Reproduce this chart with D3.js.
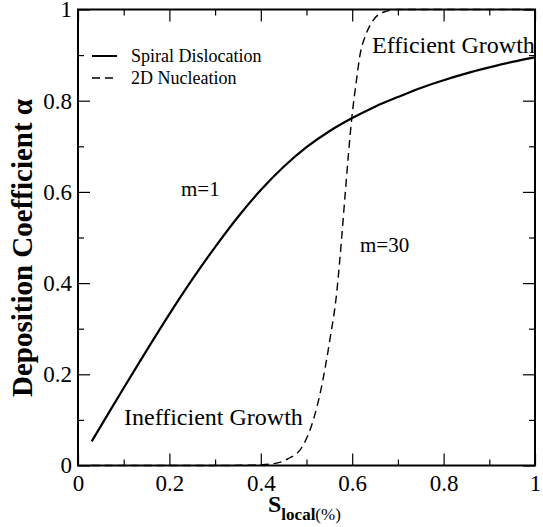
<!DOCTYPE html>
<html>
<head>
<meta charset="utf-8">
<script src="https://cdn.jsdelivr.net/npm/d3@7"></script>
<style>
  html, body { margin: 0; padding: 0; background: #fff; }
  svg { display: block; }
  text { font-family: "Liberation Serif", "Times New Roman", serif; fill: #000; }
</style>
</head>
<body>
<svg id="chart" width="543" height="527"></svg>
<script>
// Spiral dislocation growth (m = 1)
const spiralX = [0.03, 0.10, 0.15, 0.20, 0.25, 0.30, 0.35, 0.40, 0.45, 0.50, 0.55, 0.60, 0.65, 0.70, 0.75, 0.80, 0.85, 0.90, 0.95, 1.00];
const spiralY = [0.053, 0.170, 0.252, 0.332, 0.408, 0.479, 0.545, 0.604, 0.655, 0.698, 0.733, 0.762, 0.787, 0.808, 0.828, 0.845, 0.860, 0.873, 0.885, 0.895];

// 2D nucleation growth (m = 30)
const nucX = [0.03, 0.30, 0.38, 0.42, 0.46, 0.49, 0.515, 0.533, 0.551, 0.566, 0.577, 0.585, 0.599, 0.61, 0.617, 0.63, 0.645, 0.668, 0.70, 1.00];
const nucY = [0.0, 0.0, 0.0008, 0.003, 0.015, 0.04, 0.10, 0.173, 0.275, 0.378, 0.50, 0.60, 0.761, 0.85, 0.90, 0.945, 0.975, 0.994, 1.0, 1.0];

// Axis ticks
const xMajor = [0, 0.2, 0.4, 0.6, 0.8, 1];
const xMajorLabels = ["0", "0.2", "0.4", "0.6", "0.8", "1"];
const xMinor = [0.1, 0.3, 0.5, 0.7, 0.9];
const yMajor = [0, 0.2, 0.4, 0.6, 0.8, 1];
const yMajorLabels = ["0", "0.2", "0.4", "0.6", "0.8", "1"];
const yMinor = [0.1, 0.3, 0.5, 0.7, 0.9];

const legendLabels = ["Spiral Dislocation", "2D Nucleation"];

const svg = d3.select("#chart");
const L = 78, R = 535, T = 9.5, B = 465.5;

const x = d3.scaleLinear().domain([0, 1]).range([L, R]);
const y = d3.scaleLinear().domain([0, 1]).range([B, T]);

const plot = svg.append("g");

// Curves
const lineNuc = d3.line().x(d => x(d[0])).y(d => y(d[1])).curve(d3.curveMonotoneX);
const lineSpiral = d3.line().x(d => x(d[0])).y(d => y(d[1])).curve(d3.curveCatmullRom.alpha(0.5));

plot.append("path")
  .datum(nucX.map((v, i) => [v, nucY[i]]))
  .attr("d", lineNuc)
  .attr("fill", "none")
  .attr("stroke", "#000")
  .attr("stroke-width", 1.4)
  .attr("stroke-dasharray", "8,5");

plot.append("path")
  .datum(spiralX.map((v, i) => [v, spiralY[i]]))
  .attr("d", lineSpiral)
  .attr("fill", "none")
  .attr("stroke", "#000")
  .attr("stroke-width", 2.2);

// Axes with inward ticks on all four sides
const major = 12, minor = 6;
const axisG = svg.append("g");
function addAxis(gen, tx, ty) {
  const g = axisG.append("g").attr("transform", `translate(${tx},${ty})`).call(gen);
  g.select(".domain").remove();
  g.selectAll(".tick line").attr("stroke", "#000").attr("stroke-width", 1.2);
  return g;
}
// bottom
const xb = addAxis(d3.axisBottom(x).tickValues(xMajor).tickSize(-major).tickPadding(9)
  .tickFormat((d, i) => xMajorLabels[i]), 0, B);
xb.selectAll(".tick text").attr("font-size", 23);
addAxis(d3.axisBottom(x).tickValues(xMinor).tickSize(-minor).tickFormat(""), 0, B);
// top
addAxis(d3.axisTop(x).tickValues(xMajor).tickSize(-major).tickFormat(""), 0, T);
addAxis(d3.axisTop(x).tickValues(xMinor).tickSize(-minor).tickFormat(""), 0, T);
// left
const yl = addAxis(d3.axisLeft(y).tickValues(yMajor).tickSize(-major).tickPadding(6)
  .tickFormat((d, i) => yMajorLabels[i]), L, 0);
yl.selectAll(".tick text").attr("font-size", 23);
addAxis(d3.axisLeft(y).tickValues(yMinor).tickSize(-minor).tickFormat(""), L, 0);
// right
addAxis(d3.axisRight(y).tickValues(yMajor).tickSize(-major).tickFormat(""), R, 0);
addAxis(d3.axisRight(y).tickValues(yMinor).tickSize(-minor).tickFormat(""), R, 0);

// Frame
svg.append("rect")
  .attr("x", L).attr("y", T)
  .attr("width", R - L).attr("height", B - T)
  .attr("fill", "none").attr("stroke", "#000").attr("stroke-width", 2);

// Legend
const legend = svg.append("g");
legendLabels.forEach((lab, i) => {
  const ly = 56 + i * 22;
  legend.append("line")
    .attr("x1", 92).attr("x2", 117).attr("y1", ly).attr("y2", ly)
    .attr("stroke", "#000")
    .attr("stroke-width", i === 0 ? 2 : 1.4)
    .attr("stroke-dasharray", i === 0 ? null : "8,5");
  legend.append("text")
    .attr("x", 131).attr("y", ly + 6)
    .attr("font-size", 18)
    .text(lab);
});

// Annotations
svg.append("text").attr("x", 372).attr("y", 53).attr("font-size", 24).text("Efficient Growth");
svg.append("text").attr("x", 124).attr("y", 425).attr("font-size", 24).text("Inefficient Growth");
svg.append("text").attr("x", 181).attr("y", 196).attr("font-size", 21).text("m=1");
svg.append("text").attr("x", 360).attr("y", 252).attr("font-size", 21).text("m=30");

// Axis titles
svg.append("text")
  .attr("transform", "translate(32,248) rotate(-90)")
  .attr("text-anchor", "middle")
  .attr("font-size", 29)
  .attr("font-weight", "bold")
  .text("Deposition Coefficient α");

const xt = svg.append("text").attr("x", 268).attr("y", 512).attr("font-weight", "bold");
xt.append("tspan").attr("font-size", 24).text("S");
xt.append("tspan").attr("font-size", 17).attr("dy", 8).text("local");
xt.append("tspan").attr("font-size", 17).attr("font-weight", "normal").text("(%)");
</script>
</body>
</html>
